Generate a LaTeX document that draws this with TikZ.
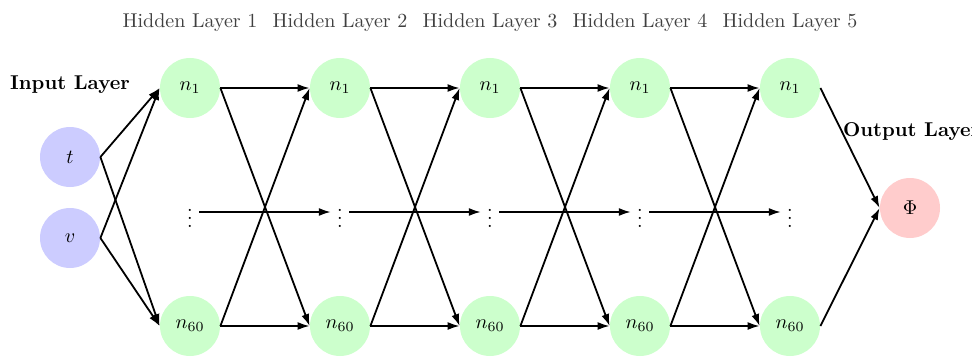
\documentclass[tikz,border=0pt]{standalone}
\usetikzlibrary{arrows.meta}
\begin{document}
\begin{tikzpicture}[x=0.5pt,y=-0.5pt,
  neuron/.style={circle, minimum size=30pt, inner sep=0pt, draw=none},
  inp/.style={neuron, fill=blue!20},
  hid/.style={neuron, fill=green!20},
  outn/.style={neuron, fill=red!20},
  dotsn/.style={inner sep=3pt},
  title/.style={text=black!75},
  lbl/.style={font=\bfseries},
  conn/.style={-{Latex[length=6pt,width=4pt]}, line width=0.9pt}]
\useasboundingbox (0,0) rectangle (972,358);
\node[inp] (t) at (70,157) {$t$};
\node[inp] (v) at (70,238) {$v$};
\node[outn] (phi) at (910,208) {$\Phi$};
\node[lbl] (inl) at (70,85) {Input Layer};
\node[lbl, anchor=west] (outl) at (836,132) {Output Layer};
\foreach \i/\x in {1/190,2/340,3/490,4/640,5/790}{
  \node[hid] (a\i) at (\x,88) {$n_1$};
  \node[hid] (b\i) at (\x,326) {$n_{60}$};
  \node[dotsn] (d\i) at (\x,212) {$\vdots$};
  \node[title] (h\i) at (\x,23) {Hidden Layer \i};
}
\foreach \s in {t,v}{
  \draw[conn] (\s.east) -- (a1.west);
  \draw[conn] (\s.east) -- (b1.west);
}
\foreach \i in {1,2,3,4}{
  \pgfmathtruncatemacro\j{\i+1}
  \draw[conn] (a\i.east) -- (a\j.west);
  \draw[conn] (a\i.east) -- (b\j.west);
  \draw[conn] (b\i.east) -- (a\j.west);
  \draw[conn] (b\i.east) -- (b\j.west);
  \draw[conn] (d\i.east) -- (d\j.west);
}
\draw[conn] (a5.east) -- (phi.west);
\draw[conn] (b5.east) -- (phi.west);
\end{tikzpicture}
\end{document}
